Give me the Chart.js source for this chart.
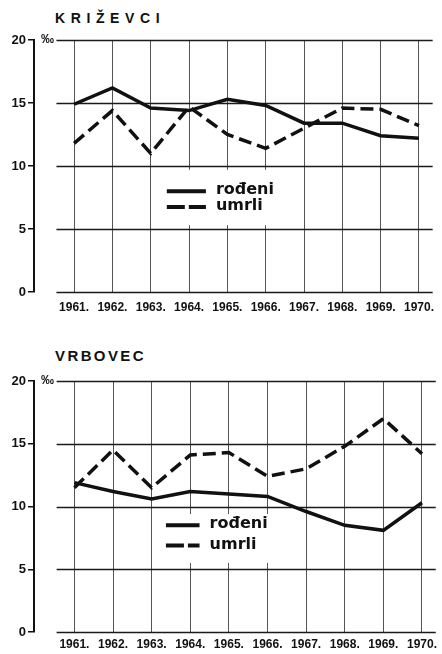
<!DOCTYPE html>
<html>
<head>
<meta charset="utf-8">
<script src="https://cdn.jsdelivr.net/npm/chart.js@4"></script>
<style>
  body { margin: 0; background: #fff; width: 442px; height: 654px; position: relative; overflow: hidden; }
  canvas { position: absolute; left: 0; }
  .title { position: absolute; left: 55px; font-family: "Liberation Sans", Arial, sans-serif; font-weight: bold; color: #111; line-height: 1; }
  #t1 { top: 11px; font-size: 14px; letter-spacing: 5.6px; }
  #t2 { top: 348px; font-size: 15px; letter-spacing: 2.4px; }
</style>
</head>
<body>
<div class="title" id="t1"></div>
<div class="title" id="t2"></div>
<canvas id="chartTop" width="442" height="320" style="top:0"></canvas>
<canvas id="chartBottom" width="442" height="313" style="top:341px"></canvas>
<script>
const years = [1961, 1962, 1963, 1964, 1965, 1966, 1967, 1968, 1969, 1970];
const yTicks = [0, 5, 10, 15, 20];
const seriesNames = ['rođeni', 'umrli'];
const titles = ['KRIŽEVCI', 'VRBOVEC'];
const unitLabel = '‰';

const krizevciRodeni = [14.9, 16.2, 14.6, 14.4, 15.3, 14.8, 13.4, 13.4, 12.4, 12.2];
const krizevciUmrli  = [11.8, 14.4, 11.0, 14.7, 12.5, 11.4, 13.0, 14.6, 14.5, 13.2];
const vrbovecRodeni  = [11.9, 11.2, 10.6, 11.2, 11.0, 10.8, 9.6, 8.5, 8.1, 10.3];
const vrbovecUmrli   = [11.5, 14.5, 11.5, 14.1, 14.3, 12.4, 13.0, 14.8, 17.0, 14.2];

document.getElementById('t1').textContent = titles[0];
document.getElementById('t2').textContent = titles[1];

const ink = '#111';
const gridStart = 1960.54; // horizontal rules begin a bit right of the axis

// horizontal rules, unit sign and the in-plot legend
const paperPlugin = {
    id: 'paper',
    beforeDatasetsDraw(chart) {
        const { ctx, chartArea, scales: { x, y } } = chart;
        ctx.save();
        ctx.strokeStyle = '#1a1a1a';
        ctx.lineWidth = 1.3;
        const x0 = x.getPixelForValue(gridStart);
        yTicks.forEach(v => {
            const py = Math.round(y.getPixelForValue(v)) + 0.5;
            ctx.beginPath();
            ctx.moveTo(x0, py);
            ctx.lineTo(chartArea.right, py);
            ctx.stroke();
        });
        ctx.fillStyle = ink;
        ctx.font = 'bold 13px "Liberation Sans", Arial, sans-serif';
        ctx.textBaseline = 'middle';
        ctx.fillText(unitLabel, chartArea.left + 7, y.getPixelForValue(20) - 1);
        ctx.restore();
    },
    afterDatasetsDraw(chart, args, opts) {
        const { ctx, scales: { x, y } } = chart;
        const lg = opts.box;
        ctx.save();
        ctx.fillStyle = '#fff';
        const bx = x.getPixelForValue(lg.x0), by = y.getPixelForValue(lg.y0);
        ctx.fillRect(bx, by, x.getPixelForValue(lg.x1) - bx, y.getPixelForValue(lg.y1) - by);

        chart.data.datasets.forEach((ds, i) => {
            const py = y.getPixelForValue(lg.rows[i]);
            ctx.strokeStyle = ink;
            ctx.lineWidth = 4;
            ctx.setLineDash(i === 1 ? [18, 4] : []);
            ctx.beginPath();
            ctx.moveTo(x.getPixelForValue(lg.lineFrom), py);
            ctx.lineTo(x.getPixelForValue(lg.lineTo), py);
            ctx.stroke();
            ctx.setLineDash([]);
            ctx.fillStyle = ink;
            ctx.font = 'bold 16px "DejaVu Sans", sans-serif';
            ctx.textBaseline = 'middle';
            ctx.fillText(ds.label, x.getPixelForValue(lg.text), py - 1);
        });
        ctx.restore();
    }
};

function makeChart(id, rodeni, umrli, axisHeight, labelPad, box) {
    const ctx = document.getElementById(id).getContext('2d');
    return new Chart(ctx, {
        type: 'line',
        data: {
            datasets: [
                {
                    label: seriesNames[0],
                    data: years.map((yr, i) => ({ x: yr, y: rodeni[i] })),
                    borderColor: ink,
                    borderWidth: 3.5,
                    pointRadius: 0,
                    tension: 0
                },
                {
                    label: seriesNames[1],
                    data: years.map((yr, i) => ({ x: yr, y: umrli[i] })),
                    borderColor: ink,
                    borderWidth: 3.5,
                    borderDash: [13, 6],
                    pointRadius: 0,
                    tension: 0
                }
            ]
        },
        options: {
            responsive: false,
            animation: false,
            layout: { padding: { top: 40, left: 0, right: 0, bottom: 0 } },
            plugins: {
                legend: { display: false },
                tooltip: { enabled: false },
                paper: { box: box }
            },
            scales: {
                x: {
                    type: 'linear',
                    min: 1959.954,
                    max: 1970.357,
                    afterBuildTicks: s => { s.ticks = years.map(v => ({ value: v })); },
                    afterFit: s => { s.height = axisHeight; },
                    grid: { drawTicks: false, color: '#555', lineWidth: 1 },
                    border: { display: false },
                    ticks: {
                        autoSkip: false,
                        maxRotation: 0,
                        padding: labelPad,
                        color: ink,
                        font: { family: '"Liberation Sans Narrow", "Arial Narrow", sans-serif', size: 12, weight: 'bold' },
                        callback: v => v + '.'
                    }
                },
                y: {
                    min: 0,
                    max: 20,
                    afterBuildTicks: s => { s.ticks = yTicks.map(v => ({ value: v })); },
                    afterFit: s => { s.width = 34; },
                    grid: { drawOnChartArea: false, drawTicks: true, tickLength: 6, color: ink, lineWidth: 1.5 },
                    border: { display: true, color: ink, width: 2 },
                    ticks: {
                        padding: 2,
                        color: ink,
                        font: { family: '"Liberation Sans", Arial, sans-serif', size: 13, weight: 'bold' }
                    }
                }
            }
        },
        plugins: [paperPlugin]
    });
}

makeChart('chartTop', krizevciRodeni, krizevciUmrli, 28, 8, {
    x0: 1963.3, x1: 1966.25, y0: 9.7, y1: 5.3,
    rows: [8.0, 6.75], lineFrom: 1963.42, lineTo: 1964.44, text: 1964.7
});
makeChart('chartBottom', vrbovecRodeni, vrbovecUmrli, 22, 5, {
    x0: 1963.3, x1: 1966.2, y0: 9.4, y1: 5.5,
    rows: [8.5, 6.9], lineFrom: 1963.37, lineTo: 1964.24, text: 1964.5
});
</script>
</body>
</html>
